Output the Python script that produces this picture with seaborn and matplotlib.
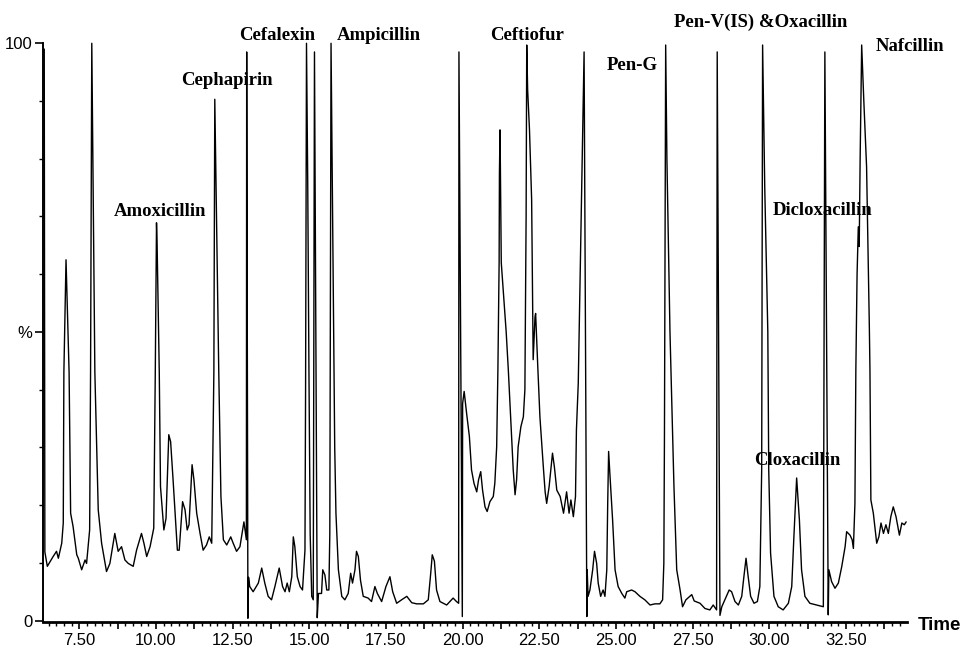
import matplotlib
matplotlib.use("Agg")
import matplotlib.pyplot as plt
import matplotlib.transforms as mtransforms
from matplotlib.ticker import FixedLocator, FixedFormatter
import numpy as np
import pandas as pd
import seaborn as sns

# ---- data (time in min, relative intensity %) ----
time = [
    6.36, 6.38, 6.46, 6.65, 6.76, 6.82, 6.93, 6.98, 7.00, 7.07, 7.17, 7.22, 7.30, 7.42, 7.47,
    7.58, 7.69, 7.74, 7.84, 7.87, 7.91, 8.01, 8.12, 8.23, 8.39, 8.50, 8.66, 8.77, 8.88, 8.99,
    9.10, 9.26, 9.37, 9.53, 9.61, 9.70, 9.81, 9.93, 9.98, 10.02, 10.04, 10.11, 10.15, 10.26,
    10.33, 10.42, 10.48, 10.56, 10.70, 10.76, 10.87, 10.95, 11.02, 11.08, 11.18, 11.24, 11.33,
    11.44, 11.54, 11.65, 11.74, 11.82, 11.89, 11.92, 12.05, 12.12, 12.20, 12.31, 12.44, 12.52,
    12.63, 12.74, 12.87, 12.95, 12.96, 13.00, 13.02, 13.06, 13.17, 13.34, 13.45, 13.55, 13.66,
    13.77, 13.88, 14.02, 14.13, 14.21, 14.28, 14.35, 14.43, 14.48, 14.53, 14.61, 14.70, 14.78,
    14.86, 14.88, 14.91, 14.95, 14.99, 15.03, 15.08, 15.13, 15.17, 15.26, 15.30, 15.40, 15.44,
    15.51, 15.57, 15.64, 15.67, 15.71, 15.76, 15.83, 15.87, 15.95, 16.06, 16.16, 16.27, 16.35,
    16.41, 16.49, 16.54, 16.60, 16.67, 16.76, 16.92, 17.03, 17.14, 17.22, 17.36, 17.50, 17.63,
    17.72, 17.85, 18.01, 18.18, 18.34, 18.50, 18.72, 18.88, 18.96, 19.01, 19.08, 19.15, 19.26,
    19.48, 19.69, 19.80, 19.87, 19.88, 19.99, 20.00, 20.05, 20.13, 20.22, 20.29, 20.37, 20.46,
    20.52, 20.59, 20.65, 20.73, 20.80, 20.89, 21.00, 21.05, 21.11, 21.15, 21.19, 21.20, 21.22,
    21.26, 21.42, 21.49, 21.57, 21.65, 21.71, 21.76, 21.81, 21.90, 21.98, 22.03, 22.07, 22.09,
    22.12, 22.18, 22.25, 22.30, 22.36, 22.38, 22.45, 22.52, 22.63, 22.69, 22.74, 22.82, 22.93,
    22.99, 23.07, 23.18, 23.29, 23.39, 23.47, 23.53, 23.61, 23.68, 23.71, 23.77, 23.88, 23.96,
    24.05, 24.06, 24.09, 24.15, 24.24, 24.30, 24.37, 24.42, 24.50, 24.58, 24.64, 24.70, 24.73,
    24.76, 24.80, 24.89, 24.97, 25.07, 25.19, 25.29, 25.35, 25.51, 25.62, 25.78, 25.94, 26.11,
    26.27, 26.43, 26.52, 26.56, 26.58, 26.62, 26.66, 26.76, 26.82, 26.89, 26.98, 27.09, 27.17,
    27.28, 27.47, 27.55, 27.74, 27.90, 28.06, 28.17, 28.28, 28.30, 28.39, 28.45, 28.55, 28.69,
    28.77, 28.88, 28.99, 29.10, 29.17, 29.24, 29.31, 29.39, 29.50, 29.61, 29.69, 29.75, 29.78,
    29.85, 29.95, 29.98, 30.04, 30.15, 30.29, 30.45, 30.62, 30.73, 30.80, 30.89, 30.98, 31.05,
    31.16, 31.32, 31.54, 31.76, 31.81, 31.92, 31.94, 32.03, 32.14, 32.25, 32.36, 32.47, 32.52,
    32.63, 32.70, 32.74, 32.79, 32.82, 32.86, 32.90, 32.93, 32.96, 33.01, 33.08, 33.17, 33.26,
    33.28, 33.31, 33.39, 33.50, 33.57, 33.64, 33.72, 33.80, 33.88, 33.96, 34.04, 34.13, 34.24,
    34.32, 34.40, 34.46,
]
intensity = [
    99.0, 11.9, 9.4, 11.1, 12.0, 10.8, 13.4, 16.9, 43.0, 62.5, 43.0, 18.6, 16.3, 11.4, 10.8,
    8.8, 10.5, 9.9, 15.7, 43.0, 100.0, 43.0, 19.2, 13.4, 8.5, 9.9, 15.1, 12.0, 12.8, 10.5,
    9.9, 9.4, 12.2, 15.1, 13.4, 11.1, 12.8, 16.0, 43.0, 68.9, 65.0, 43.0, 23.2, 15.7,
    17.7, 32.2, 31.0, 24.4, 12.2, 12.2, 20.6, 19.2, 15.7, 16.6, 27.0, 24.4, 18.6,
    15.1, 12.2, 13.1, 14.5, 13.4, 43.0, 90.3, 43.0, 21.5, 14.0, 13.1, 14.5, 13.4,
    12.0, 12.8, 17.1, 14.0, 98.5, 0.4, 7.5, 5.9, 5.0, 6.5, 9.1, 6.5, 4.2,
    3.6, 5.9, 9.1, 5.9, 5.0, 6.5, 5.0, 7.6, 14.5, 12.8, 7.6, 5.9, 5.3,
    12.2, 40.0, 100.0, 76.0, 43.0, 15.0, 4.2, 3.6, 98.5, 0.5, 4.7, 4.7, 8.8,
    7.9, 5.3, 5.3, 15.0, 100.0, 70.0, 30.0, 18.6, 8.8, 4.2, 3.6, 4.7, 8.2,
    6.5, 8.8, 12.0, 11.1, 7.0, 4.2, 3.9, 3.3, 5.9, 4.7, 3.3, 5.9, 7.6,
    5.0, 3.0, 3.6, 4.2, 3.1, 2.9, 2.9, 3.6, 8.2, 11.4, 10.3, 5.3, 3.3,
    2.7, 3.9, 3.3, 3.0, 98.5, 0.7, 37.6, 39.7, 35.9, 31.9, 26.1, 23.8, 22.3,
    24.4, 25.8, 22.6, 19.7, 18.9, 20.6, 21.5, 23.8, 30.1, 43.4, 62.0, 77.5, 85.0,
    62.0, 50.0, 43.4, 34.8, 26.1, 21.8, 24.4, 30.1, 33.6, 35.3, 40.0, 70.0, 99.7,
    91.9, 85.0, 72.9, 45.2, 52.6, 53.2, 44.0, 35.3, 26.7, 22.3, 20.3, 23.2, 29.0,
    26.7, 22.6, 21.5, 18.6, 22.3, 18.6, 20.9, 18.0, 21.5, 33.0, 41.1, 74.0, 98.5,
    0.7, 8.8, 4.2, 5.3, 8.8, 12.0, 9.9, 6.5, 4.2, 5.3, 4.2, 8.8, 20.3,
    29.3, 25.5, 17.4, 8.8, 5.9, 4.7, 3.9, 5.0, 5.3, 5.0, 4.2, 3.6, 2.7,
    2.9, 2.9, 3.6, 9.9, 31.9, 99.7, 80.0, 50.0, 37.6, 23.2, 8.8, 5.3, 2.4,
    3.6, 4.5, 3.4, 3.0, 2.1, 1.85, 2.7, 1.85, 98.5, 0.9, 2.4, 3.6, 5.3,
    5.0, 3.3, 2.7, 4.2, 7.6, 10.8, 7.6, 4.2, 3.0, 3.3, 5.9, 26.1, 99.7,
    75.0, 50.0, 26.1, 11.7, 4.2, 2.4, 1.85, 3.0, 5.9, 14.5, 24.7, 17.4, 8.8,
    4.2, 3.0, 2.7, 2.4, 98.5, 1.0, 8.8, 6.75, 5.6, 6.5, 9.35, 12.8, 15.4,
    14.8, 14.0, 12.5, 20.3, 43.4, 60.0, 68.2, 64.8, 80.0, 99.7, 90.0, 78.6, 50.9,
    43.4, 20.9, 18.6, 13.4, 14.5, 16.9, 15.1, 16.6, 15.1, 18.0, 19.7, 18.0, 14.8,
    16.9, 16.6, 17.1,
]

compounds = ["Amoxicillin", "Cephapirin", "Cefalexin", "Ampicillin", "Ceftiofur",
             "Pen-G", "Pen-V(IS) &Oxacillin", "Nafcillin", "Dicloxacillin", "Cloxacillin"]
label_time = [10.13, 12.32, 13.94, 17.27, 22.11, 25.52, 29.72, 34.57, 31.75, 30.92]
label_level = [70.8, 93.6, 101.4, 101.4, 101.4, 96.2, 103.7, 99.4, 71.1, 27.7]

x_major = [7.5, 10.0, 12.5, 15.0, 17.5, 20.0, 22.5, 25.0, 27.5, 30.0, 32.5]
y_major = [0, 50, 100]
y_labels = ["0", "%", "100"]

df = pd.DataFrame({"time": time, "intensity": intensity})

sns.set_theme(style="white")
plt.rcParams["font.family"] = ["Liberation Sans", "DejaVu Sans"]

fig = plt.figure(figsize=(9.62, 6.49), dpi=100)
ax = fig.add_axes([0.0444, 0.0411, 0.8985, 0.8922])

sns.lineplot(data=df, x="time", y="intensity", sort=False, estimator=None,
             color="black", linewidth=1.0, ax=ax, clip_on=False)

ax.set_xlim(6.31, 34.49)
ax.set_ylim(-0.3, 100)
ax.set_xlabel("")
ax.set_ylabel("")

for side in ("top", "right"):
    ax.spines[side].set_visible(False)
ax.spines["bottom"].set_linewidth(2.0)
ax.spines["left"].set_linewidth(1.4)
ax.spines["bottom"].set_color("black")
ax.spines["left"].set_color("black")

# x ticks: long every 1.25, labelled every 2.5, short every 0.25
xt = np.arange(6.25, 34.5, 1.25)
xt = xt[xt >= 6.31]
ax.xaxis.set_major_locator(FixedLocator(xt))
ax.xaxis.set_major_formatter(FixedFormatter(
    [("%.2f" % v) if any(abs(v - m) < 1e-6 for m in x_major) else "" for v in xt]))
xm = np.arange(6.5, 34.5, 0.25)
ax.xaxis.set_minor_locator(FixedLocator(xm))

ax.yaxis.set_major_locator(FixedLocator(y_major))
ax.yaxis.set_major_formatter(FixedFormatter(y_labels))
ax.yaxis.set_minor_locator(FixedLocator(np.arange(10, 100, 10)))

ax.tick_params(axis="x", which="major", direction="out", length=5, width=1.2,
               labelsize=12, pad=3, colors="black", bottom=True)
ax.tick_params(axis="x", which="minor", direction="out", length=3, width=1.0,
               colors="black", bottom=True)
ax.tick_params(axis="y", which="major", direction="out", length=6, width=1.2,
               labelsize=12, pad=1.5, colors="black", left=True)
ax.tick_params(axis="y", which="minor", direction="out", length=3, width=1.0,
               colors="black", left=True)

trans = mtransforms.blended_transform_factory(ax.transAxes, ax.transData)
ax.text(1.012, -0.9, "Time", transform=trans, ha="left", va="center",
        fontsize=13.5, fontweight="bold", color="black", clip_on=False)

for name, tx, ty in zip(compounds, label_time, label_level):
    ax.text(tx, ty, name, ha="center", va="center", fontsize=13.5,
            fontweight="bold", family=["Liberation Serif", "DejaVu Serif"],
            color="black", clip_on=False)

fig.savefig("out.png", dpi=100, facecolor="white")
